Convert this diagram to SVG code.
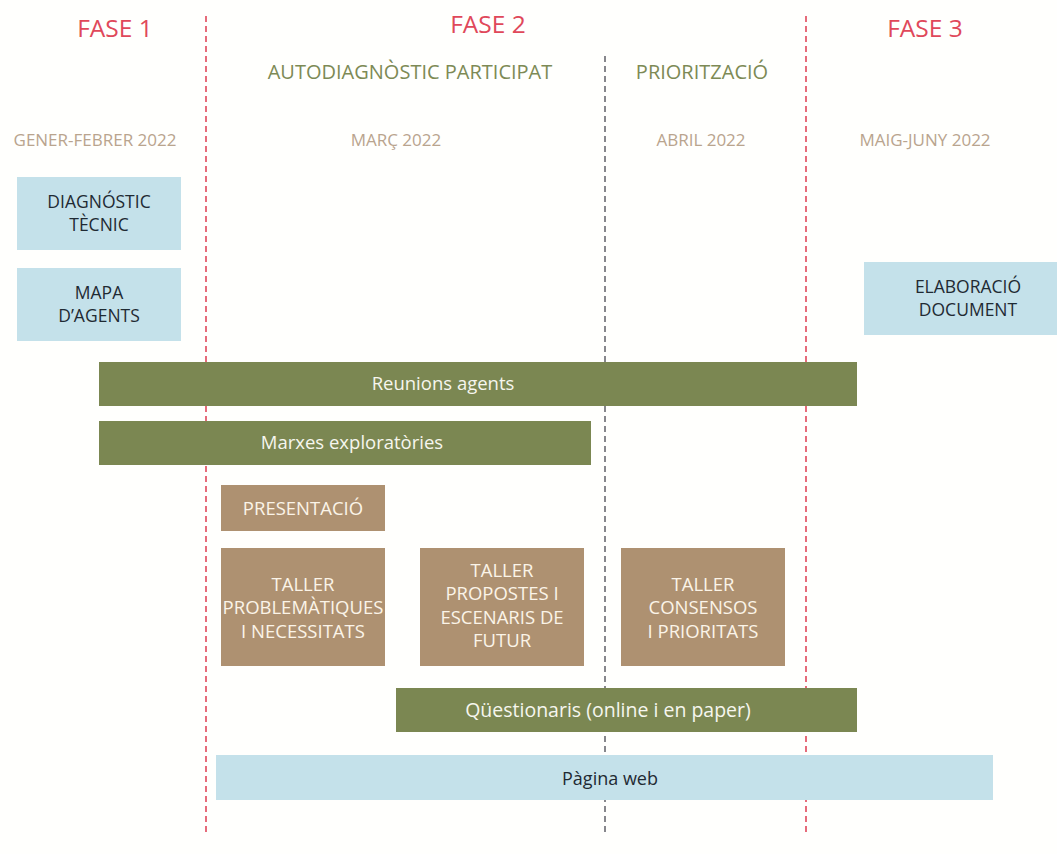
<svg xmlns="http://www.w3.org/2000/svg" width="1057" height="854" viewBox="0 0 1057 854">
<style>
text{font-family:"Open Sans","Noto Sans","DejaVu Sans",sans-serif;text-anchor:middle}
.fase{fill:#e0485a;font-size:24.5px}
.sub{fill:#7d8a55;font-size:20px}
.date{fill:#b9a48e;font-size:17px}
.blue{fill:#c4e1ea}
.green{fill:#7b8752}
.tan{fill:#ae9171}
.tb{fill:#1f2a33;font-size:17.5px}
.tw{fill:#fbf4e8;font-size:18.5px}
.tg{fill:#f6f6ee;font-size:18.5px}
.red{stroke:#e0485a;stroke-width:1.6;stroke-dasharray:6 4;fill:none}
.gray{stroke:#6a6a70;stroke-width:1.6;stroke-dasharray:6 4;fill:none}
</style>
<rect width="1057" height="854" fill="#fffffd"/>
<g id="connectors">
<line class="red" x1="206" y1="16" x2="206" y2="832"/>
<line class="red" x1="806" y1="16" x2="806" y2="832"/>
<line class="gray" x1="605" y1="56" x2="605" y2="832"/>
</g>
<g id="headers">
<text class="fase" x="115" y="37">FASE 1</text>
<text class="fase" x="488" y="33">FASE 2</text>
<text class="fase" x="925" y="37">FASE 3</text>
<text class="sub" x="410" y="79">AUTODIAGNÒSTIC PARTICIPAT</text>
<text class="sub" x="702" y="79">PRIORITZACIÓ</text>
<text class="date" x="95" y="146">GENER-FEBRER 2022</text>
<text class="date" x="396" y="146">MARÇ 2022</text>
<text class="date" x="701" y="146">ABRIL 2022</text>
<text class="date" x="925" y="146">MAIG-JUNY 2022</text>
</g>
<g id="diagnostic">
<rect class="blue" x="17" y="177" width="164" height="73"/>
<text class="tb" x="99" y="208">DIAGNÓSTIC</text>
<text class="tb" x="99" y="231">TÈCNIC</text>
</g>
<g id="mapa">
<rect class="blue" x="17" y="268" width="164" height="73"/>
<text class="tb" x="99" y="299">MAPA</text>
<text class="tb" x="99" y="322">D’AGENTS</text>
</g>
<g id="elaboracio">
<rect class="blue" x="864" y="262" width="193" height="73"/>
<text class="tb" x="968" y="293">ELABORACIÓ</text>
<text class="tb" x="968" y="316">DOCUMENT</text>
</g>
<g id="reunions">
<rect class="green" x="99" y="362" width="758" height="44"/>
<text class="tg" x="443" y="390">Reunions agents</text>
</g>
<g id="marxes">
<rect class="green" x="99" y="421" width="492" height="44"/>
<text class="tg" x="352" y="449">Marxes exploratòries</text>
</g>
<g id="presentacio">
<rect class="tan" x="221" y="485" width="164" height="46"/>
<text class="tw" x="303" y="515">PRESENTACIÓ</text>
</g>
<g id="taller1">
<rect class="tan" x="221" y="548" width="164" height="118"/>
<text class="tw" x="303" y="591">TALLER</text>
<text class="tw" x="303" y="614">PROBLEMÀTIQUES</text>
<text class="tw" x="303" y="638">I NECESSITATS</text>
</g>
<g id="taller2">
<rect class="tan" x="420" y="548" width="164" height="118"/>
<text class="tw" x="502" y="577">TALLER</text>
<text class="tw" x="502" y="600">PROPOSTES I</text>
<text class="tw" x="502" y="624">ESCENARIS DE</text>
<text class="tw" x="502" y="647">FUTUR</text>
</g>
<g id="taller3">
<rect class="tan" x="621" y="548" width="164" height="118"/>
<text class="tw" x="703" y="591">TALLER</text>
<text class="tw" x="703" y="614">CONSENSOS</text>
<text class="tw" x="703" y="638">I PRIORITATS</text>
</g>
<g id="questionaris">
<rect class="green" x="396" y="688" width="461" height="44"/>
<text class="tg" x="608" y="717" style="font-size:19.5px">Qüestionaris (online i en paper)</text>
</g>
<g id="web">
<rect class="blue" x="216" y="755" width="777" height="45"/>
<text class="tb" x="610" y="785" style="font-size:18px">Pàgina web</text>
</g>
</svg>
